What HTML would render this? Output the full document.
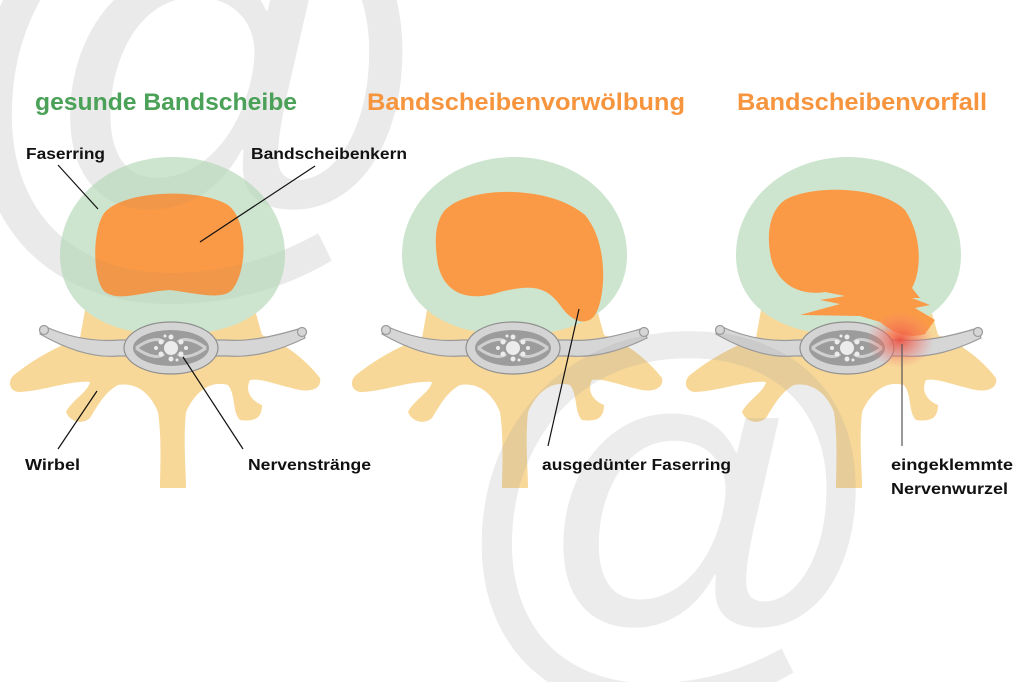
<!DOCTYPE html>
<html><head><meta charset="utf-8"><style>
html,body{margin:0;padding:0;background:#fff;width:1024px;height:682px;overflow:hidden;}
svg{display:block;overflow:hidden;}
</style></head><body>
<svg width="1024" height="682" viewBox="0 0 1024 682" xmlns="http://www.w3.org/2000/svg" font-family="'Liberation Sans', sans-serif">
<defs>
<g id="vert">
  <path fill="#f8d898" d="M85 310 L255 310 L262 335 C290 345 310 365 320 378 C322 388 312 392 300 390 C280 386 262 378 250 380 C245 390 250 400 262 405 C262 418 255 422 240 420 C232 412 236 395 228 385 C210 380 195 392 186 412 C183 440 186 470 186 488 L160 488 C160 470 162 440 158 412 C150 392 135 382 118 385 C105 392 98 405 90 418 C82 425 70 422 66 412 C72 400 88 392 90 382 C70 380 40 392 18 392 C8 390 8 380 14 375 C35 358 60 345 80 338 Z"/>
  <path d="M172 157 C235 157 285 200 285 255 C285 300 250 335 172 335 C95 335 60 300 60 255 C60 200 110 157 172 157 Z" fill="#cde5cf"/>
  <path d="M44 326 C70 338 95 342 120 340 L225 340 C250 342 275 336 302 328 L305 338 C280 350 255 358 228 356 L118 356 C95 358 68 350 40 334 Z" fill="#d6d6d6" stroke="#9a9a9a" stroke-width="1.2"/>
  <circle cx="44" cy="330" r="4.5" fill="#d6d6d6" stroke="#9a9a9a" stroke-width="1.2"/>
  <circle cx="302" cy="332" r="4.5" fill="#d6d6d6" stroke="#9a9a9a" stroke-width="1.2"/>
  <ellipse cx="171" cy="348" rx="47" ry="26" fill="#d4d4d4" stroke="#8f8f8f" stroke-width="1.2"/>
  <ellipse cx="171" cy="348" rx="38" ry="18" fill="#9c9c9c"/>
  <path d="M136 348 C150 338 160 338 164 342 M136 348 C150 358 160 358 164 354 M206 348 C192 338 182 338 178 342 M206 348 C192 358 182 358 178 354" stroke="#cfcfcf" stroke-width="3" fill="none"/>
  <circle cx="171" cy="348" r="7" fill="#ececec"/>
  <g fill="#ececec">
    <circle cx="161" cy="342" r="2.5"/><circle cx="181" cy="342" r="2.5"/><circle cx="161" cy="354" r="2.5"/><circle cx="181" cy="354" r="2.5"/>
    <circle cx="171" cy="337" r="2.5"/><circle cx="171" cy="359" r="2.5"/><circle cx="156" cy="348" r="2"/><circle cx="186" cy="348" r="2"/>
    <circle cx="165" cy="336" r="1.5"/><circle cx="177" cy="360" r="1.5"/>
  </g>
</g>
<radialGradient id="red" cx="0.5" cy="0.5" r="0.5">
  <stop offset="0" stop-color="#ee4a3a" stop-opacity="0.9"/>
  <stop offset="0.5" stop-color="#f06a5a" stop-opacity="0.5"/>
  <stop offset="1" stop-color="#f08080" stop-opacity="0"/>
</radialGradient>
</defs>

<text x="-70" y="235" font-size="500" font-style="italic" fill="#f3f3f3">@</text>

<use href="#vert"/>
<use href="#vert" x="342"/>
<use href="#vert" x="676"/>

<path fill="#fb9a46" d="M105 212 C125 190 200 188 228 205 C248 220 248 270 232 290 C222 300 200 294 170 290 C140 292 120 302 105 292 C92 280 92 228 105 212 Z"/>
<path fill="#fb9a46" d="M445 210 C470 185 550 185 585 215 C610 245 605 300 595 315 C585 328 570 320 560 305 C545 285 530 285 500 292 C470 302 445 295 438 265 C434 240 435 222 445 210 Z"/>
<path fill="#fb9a46" d="M785 200 C810 185 880 185 905 210 C922 235 922 270 912 288 L920 298 L912 298 L930 305 L915 308 L935 320 L925 334 C905 340 890 330 880 322 L860 316 L800 315 L840 304 L820 300 L845 296 L825 292 C800 296 780 285 772 262 C765 235 770 210 785 200 Z"/>

<text x="-70" y="235" font-size="500" font-style="italic" fill="#7a7a7a" fill-opacity="0.08">@</text>
<text x="440" y="650" font-size="440" font-style="italic" fill="#a0a0a0" fill-opacity="0.2">@</text>

<ellipse cx="900" cy="340" rx="34" ry="28" fill="url(#red)"/>

<g font-weight="bold" font-size="24">
<text x="35" y="110" fill="#4aa157" textLength="262" lengthAdjust="spacingAndGlyphs">gesunde Bandscheibe</text>
<text x="367" y="110" fill="#f7953f" textLength="318" lengthAdjust="spacingAndGlyphs">Bandscheibenvorwölbung</text>
<text x="737" y="110" fill="#f7953f" textLength="250" lengthAdjust="spacingAndGlyphs">Bandscheibenvorfall</text>
</g>

<g stroke="#111" stroke-width="1.2" fill="none">
<line x1="58" y1="165" x2="98" y2="209"/>
<line x1="315" y1="166" x2="200" y2="242"/>
<line x1="97" y1="391" x2="58" y2="449"/>
<line x1="183" y1="357" x2="243" y2="449"/>
<line x1="579" y1="309" x2="548" y2="446"/>
<line x1="902" y1="344" x2="902" y2="446" stroke="#555"/>
</g>

<g font-weight="bold" font-size="16" fill="#111">
<text x="26" y="159" textLength="79" lengthAdjust="spacingAndGlyphs">Faserring</text>
<text x="251" y="159" textLength="156" lengthAdjust="spacingAndGlyphs">Bandscheibenkern</text>
<text x="25" y="470" textLength="55" lengthAdjust="spacingAndGlyphs">Wirbel</text>
<text x="248" y="470" textLength="123" lengthAdjust="spacingAndGlyphs">Nervenstränge</text>
<text x="542" y="470" textLength="189" lengthAdjust="spacingAndGlyphs">ausgedünter Faserring</text>
<text x="891" y="470" textLength="122" lengthAdjust="spacingAndGlyphs">eingeklemmte</text>
<text x="891" y="494" textLength="117" lengthAdjust="spacingAndGlyphs">Nervenwurzel</text>
</g>
</svg>
</body></html>
